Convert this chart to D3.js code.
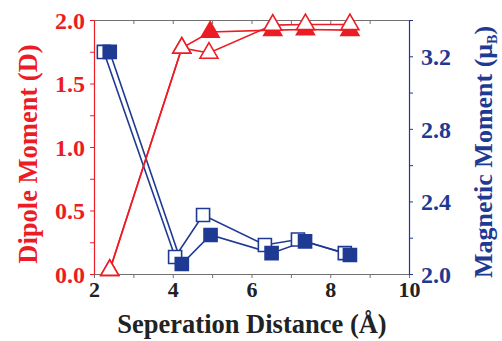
<!DOCTYPE html>
<html>
<head>
<meta charset="utf-8">
<script src="https://cdn.jsdelivr.net/npm/d3@7"></script>
<style>
  body { margin: 0; background: #fff; }
  svg { display: block; }
</style>
</head>
<body>
<div id="chart"></div>
<script>
// dipole moment (left axis), open and filled triangles
const dipoleOpenX = [2.4, 4.23, 4.92, 6.54, 7.37, 8.5];
const dipoleOpenY = [0.03, 1.78, 1.74, 1.96, 1.965, 1.965];
const dipoleFilledX = [2.4, 4.23, 4.95, 6.54, 7.37, 8.5];
const dipoleFilledY = [0.03, 1.78, 1.905, 1.92, 1.925, 1.92];

// magnetic moment (right axis), open and filled squares
const magOpenX = [2.25, 4.06, 4.77, 6.34, 7.18, 8.37];
const magOpenY = [3.224, 2.094, 2.325, 2.16, 2.19, 2.115];
const magFilledX = [2.4, 4.23, 4.96, 6.51, 7.36, 8.5];
const magFilledY = [3.224, 2.055, 2.215, 2.115, 2.18, 2.105];

const xTicks = [2, 4, 6, 8, 10];
const leftTicks = [0.0, 0.5, 1.0, 1.5, 2.0];
const rightTicks = [2.0, 2.4, 2.8, 3.2];

const width = 502;
const height = 341;
const margin = { top: 20, right: 93, bottom: 67, left: 94 };
const innerWidth = width - margin.left - margin.right;
const innerHeight = height - margin.top - margin.bottom;

const red = "#ec1c24";
const blue = "#1f3a93";
const serif = "Liberation Serif, DejaVu Serif, serif";

const svg = d3.select("#chart").append("svg")
    .attr("width", width)
    .attr("height", height)
    .attr("font-family", serif)
    .attr("font-weight", "bold");

const g = svg.append("g")
    .attr("transform", `translate(${margin.left}, ${margin.top})`);

const xScale = d3.scaleLinear().domain([2, 10]).range([0, innerWidth]);
const yLeft = d3.scaleLinear().domain([0, 2]).range([innerHeight, 0]);
const yRight = d3.scaleLinear().domain([2.0, 3.4]).range([innerHeight, 0]);

const styleAxis = (axisG, color, textColor, size) => {
    axisG.attr("font-family", serif).attr("font-size", size);
    axisG.select(".domain").attr("stroke", color).attr("stroke-width", 1.2);
    axisG.selectAll("line").attr("stroke", color);
    axisG.selectAll("text")
        .attr("fill", textColor)
        .style("font-family", serif)
        .style("font-weight", "bold")
        .style("font-size", size);
    // minor ticks carry no label
    axisG.selectAll("text").filter(function () { return this.textContent === ""; }).remove();
};

const xMinor = d3.range(2, 10.01, 1);

const xAxisG = g.append("g")
    .attr("transform", `translate(0, ${innerHeight})`)
    .call(d3.axisBottom(xScale).tickValues(xMinor).tickSize(4).tickSizeOuter(0)
        .tickFormat(d => xTicks.includes(d) ? d3.format("d")(d) : "").tickPadding(3));
styleAxis(xAxisG, "#707070", "#222", "22px");

const topAxisG = g.append("g")
    .call(d3.axisTop(xScale).tickValues(xMinor).tickSize(-4).tickSizeOuter(0).tickFormat(""));
styleAxis(topAxisG, "#707070", "#222", "22px");

const leftAxisG = g.append("g")
    .call(d3.axisLeft(yLeft).tickValues(d3.range(0, 2.01, 0.25)).tickSize(4).tickSizeOuter(0)
        .tickFormat(d => leftTicks.includes(d) ? d3.format(".1f")(d) : "").tickPadding(5));
styleAxis(leftAxisG, red, red, "24px");
leftAxisG.selectAll("text").attr("dy", "0.34em");

const rightAxisG = g.append("g")
    .attr("transform", `translate(${innerWidth}, 0)`)
    .call(d3.axisRight(yRight).tickValues(d3.range(2.0, 3.41, 0.2).map(v => +v.toFixed(1))).tickSize(4).tickSizeOuter(0)
        .tickFormat(d => rightTicks.includes(d) ? d3.format(".1f")(d) : "").tickPadding(8));
styleAxis(rightAxisG, blue, blue, "24px");
rightAxisG.selectAll("text").attr("dy", "0.34em");

// axis titles
svg.append("text")
    .attr("x", 252)
    .attr("y", 333)
    .attr("text-anchor", "middle")
    .style("font-size", "26.5px")
    .attr("fill", "#222")
    .text("Seperation Distance (Å)");

svg.append("text")
    .attr("transform", `translate(37, ${margin.top + 134}) rotate(-90)`)
    .attr("text-anchor", "middle")
    .style("font-size", "26.5px")
    .attr("fill", red)
    .text("Dipole Moment (D)");

const rightTitle = svg.append("text")
    .attr("transform", `translate(492, ${margin.top + 132}) rotate(-90)`)
    .attr("text-anchor", "middle")
    .style("font-size", "26px")
    .attr("fill", blue);
rightTitle.append("tspan").text("Magnetic Moment (μ");
rightTitle.append("tspan").attr("dy", 5).style("font-size", "14px").text("B");
rightTitle.append("tspan").attr("dy", -5).text(")");

const zip = (xs, ys) => xs.map((x, i) => ({ x, y: ys[i] }));

const drawLine = (data, yScale, color) => {
    const line = d3.line().x(d => xScale(d.x)).y(d => yScale(d.y));
    g.append("path")
        .attr("d", line(data))
        .attr("fill", "none")
        .attr("stroke", color)
        .attr("stroke-width", 1.6);
};

const drawMarkers = (data, yScale, color, shape, filled, size) => {
    g.selectAll(null).data(data)
        .enter().append("path")
        .attr("transform", d => `translate(${xScale(d.x)}, ${yScale(d.y)})`)
        .attr("d", d3.symbol().type(shape).size(size))
        .attr("fill", filled ? color : "#fff")
        .attr("stroke", color)
        .attr("stroke-width", 1.6);
};

const dOpen = zip(dipoleOpenX, dipoleOpenY);
const dFilled = zip(dipoleFilledX, dipoleFilledY);
const mOpen = zip(magOpenX, magOpenY);
const mFilled = zip(magFilledX, magFilledY);

drawLine(mOpen, yRight, blue);
drawLine(mFilled, yRight, blue);
drawLine(dFilled, yLeft, red);
drawLine(dOpen, yLeft, red);

drawMarkers(mOpen, yRight, blue, d3.symbolSquare, false, 170);
drawMarkers(mFilled, yRight, blue, d3.symbolSquare, true, 170);
drawMarkers(dFilled, yLeft, red, d3.symbolTriangle, true, 140);
drawMarkers(dOpen, yLeft, red, d3.symbolTriangle, false, 140);
</script>
</body>
</html>
